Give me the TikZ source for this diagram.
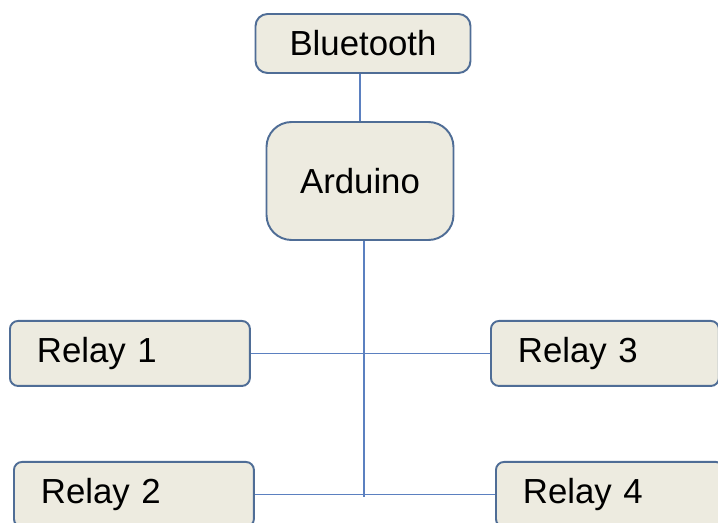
\documentclass[tikz,border=0pt]{standalone}
\usepackage{fontspec}
\setmainfont{Liberation Sans}
\definecolor{boxfill}{HTML}{EDEBE0}
\definecolor{boxline}{HTML}{4F6D96}
\definecolor{wire}{HTML}{5B80C0}
\tikzset{
	unitbox/.style={draw=boxline, line width=1.1pt, fill=boxfill, font=\fontsize{19.8}{23}\selectfont},
	relaybox/.style={unitbox, rounded corners=0.16cm, anchor=north west, minimum height=1.3cm, text width=3.72cm, inner xsep=0.54cm, align=left},
	wireline/.style={draw=wire, line width=0.8pt}
}
\begin{document}
\begin{tikzpicture}[x=0.02cm,y=-0.02cm]
				\useasboundingbox (0,0) rectangle (718,523);
				\node[unitbox, rounded corners=0.24cm, minimum width=4.3cm, minimum height=1.18cm] (bt) at (363,43.5) {Bluetooth};
				\node[unitbox, rounded corners=0.5cm, minimum width=3.74cm, minimum height=2.36cm] (ard) at (360,181) {Arduino};
				\node[relaybox] (relayA) at (9,320) {Relay 1};
				\node[relaybox, text width=3.48cm] (relayC) at (490,320) {Relay 3};
				\node[relaybox] (relayB) at (13,461) {Relay 2};
				\node[relaybox, text width=3.48cm] (relayD) at (495,461) {Relay 4};
				\coordinate (busend) at (364,497);
				\draw[wireline] (bt.south -| ard.north) -- (ard.north);
				\draw[wireline] (ard.south -| busend) -- (busend);
				\draw[wireline] (relayA.east) -- (relayC.west);
				\draw[wireline] (relayB.east) -- (relayD.west);
			\end{tikzpicture}
\end{document}
